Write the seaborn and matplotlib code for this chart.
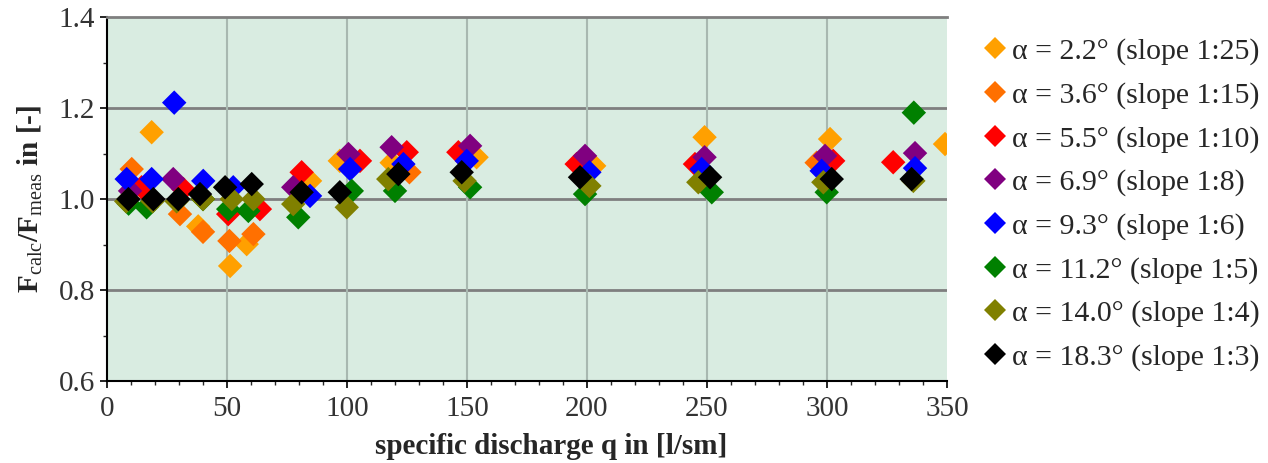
import numpy as np
import pandas as pd
import matplotlib
matplotlib.use("Agg")
import matplotlib.pyplot as plt
import seaborn as sns
from matplotlib.ticker import MultipleLocator

# ---- data ----
labels = [
    "α = 2.2° (slope 1:25)",
    "α = 3.6° (slope 1:15)",
    "α = 5.5° (slope 1:10)",
    "α = 6.9° (slope 1:8)",
    "α = 9.3° (slope 1:6)",
    "α = 11.2° (slope 1:5)",
    "α = 14.0° (slope 1:4)",
    "α = 18.3° (slope 1:3)",
]
colors = ["#FFA000", "#FF7000", "#FF0000", "#800080", "#0000FF", "#008000", "#808000", "#000000"]

q_22 = [18.6, 38, 51.3, 58.2, 84.6, 97, 118.6, 154, 203, 249, 301.3, 349.2]
f_22 = [1.147, 0.940, 0.853, 0.901, 1.040, 1.084, 1.080, 1.092, 1.073, 1.136, 1.132, 1.121]

q_36 = [10.3, 30.4, 40, 51, 61, 126, 295.7]
f_36 = [1.066, 0.967, 0.928, 0.908, 0.923, 1.059, 1.080]

q_55 = [14.4, 31.8, 50.5, 63.7, 81.1, 105.4, 124.9, 146.4, 195.7, 245, 302.6, 327.6]
f_55 = [1.026, 1.022, 0.967, 0.978, 1.059, 1.084, 1.103, 1.103, 1.077, 1.077, 1.084, 1.081]

q_69 = [9.6, 27.6, 77.6, 100.6, 118.6, 151.3, 199.2, 249, 299.2, 336.7]
f_69 = [1.018, 1.044, 1.026, 1.099, 1.114, 1.117, 1.095, 1.092, 1.095, 1.101]

q_93 = [8.2, 18.6, 28, 40.1, 52.6, 84.6, 101.3, 123.5, 149.9, 201, 247.8, 297.8, 336.7]
f_93 = [1.044, 1.044, 1.212, 1.040, 1.026, 1.007, 1.066, 1.077, 1.084, 1.059, 1.066, 1.062, 1.068]

q_112 = [9, 16.5, 40, 50.5, 58.9, 79.7, 102, 120, 151.3, 199.2, 252, 299.9, 336.2]
f_112 = [0.990, 0.982, 1.000, 0.978, 0.974, 0.960, 1.018, 1.018, 1.026, 1.011, 1.015, 1.015, 1.190]

q_140 = [8, 19, 29, 40, 52, 61, 77.6, 99.9, 117.2, 149, 201, 246.4, 298.5, 336]
f_140 = [0.995, 0.995, 0.995, 1.000, 1.000, 1.000, 0.989, 0.982, 1.044, 1.040, 1.029, 1.037, 1.037, 1.040]

q_183 = [8.9, 19.3, 29.7, 38.75, 49.2, 60.3, 81.1, 97, 121.4, 147.8, 197.1, 251.3, 302, 335.3]
f_183 = [1.000, 1.000, 1.000, 1.011, 1.026, 1.033, 1.015, 1.015, 1.055, 1.059, 1.048, 1.048, 1.044, 1.044]

series_q = [q_22, q_36, q_55, q_69, q_93, q_112, q_140, q_183]
series_f = [f_22, f_36, f_55, f_69, f_93, f_112, f_140, f_183]

frames = []
for lab, qs, fs in zip(labels, series_q, series_f):
    frames.append(pd.DataFrame({"q": qs, "F": fs, "slope": lab}))
df = pd.concat(frames, ignore_index=True)

# ---- styling ----
sns.set_style("white")
plt.rcParams["font.family"] = ["Liberation Serif", "DejaVu Serif"]
plt.rcParams["mathtext.fontset"] = "custom"
plt.rcParams["mathtext.rm"] = "Liberation Serif"
plt.rcParams["mathtext.bf"] = "Liberation Serif:bold"
plt.rcParams["mathtext.it"] = "Liberation Serif:italic"

fig = plt.figure(figsize=(12.68, 4.63), dpi=100)
ax = fig.add_axes([0.0844, 0.177, 0.6624, 0.786])
ax.set_facecolor("#D9ECE1")

sns.scatterplot(data=df, x="q", y="F", hue="slope", hue_order=labels,
                palette=dict(zip(labels, colors)), marker="D", s=155,
                linewidth=0, ax=ax, zorder=3)

ax.set_xlim(0, 350)
ax.set_ylim(0.6, 1.4)
ax.xaxis.set_major_locator(MultipleLocator(50))
ax.xaxis.set_minor_locator(MultipleLocator(10))
ax.yaxis.set_minor_locator(MultipleLocator(0.1))
ax.set_yticks([0.6, 0.8, 1.0, 1.2, 1.4])
ax.set_yticklabels(["0.6", "0.8", "1.0", "1.2", "1.4"])

ax.grid(False)
for yv in [1.2, 1.0, 0.8]:
    ax.axhline(yv, color="#7F7F7F", lw=2, zorder=1)
for xv in [50, 100, 150, 200, 250, 300]:
    ax.axvline(xv, color="#A8B8B0", lw=1.5, zorder=1)

ax.spines["left"].set_color("black")
ax.spines["left"].set_linewidth(1.5)
ax.spines["bottom"].set_color("black")
ax.spines["bottom"].set_linewidth(1.5)
ax.spines["top"].set_color("#7F7F7F")
ax.spines["top"].set_linewidth(2)
ax.spines["right"].set_visible(False)

ax.tick_params(axis="both", which="major", direction="out", length=5, width=1.2,
               labelsize=21, colors="black", left=True, bottom=True)
ax.tick_params(axis="x", which="major", pad=6)
ax.tick_params(axis="both", which="minor", direction="out", length=3, width=1,
               left=True, bottom=True)
for t in ax.get_xticklabels() + ax.get_yticklabels():
    t.set_color("#333333")

ax.set_xlabel("specific discharge q in [l/sm]", fontsize=21, fontweight="bold",
              labelpad=8)
ax.xaxis.label.set_x(0.529)
ax.set_ylabel(r"$\mathbf{F}_{\mathrm{calc}}\mathbf{/F}_{\mathrm{meas}}$ in [-]",
              fontsize=21, fontweight="bold", labelpad=10)

ax.legend(loc="upper left", bbox_to_anchor=(1.015, 1.0), frameon=False,
          fontsize=21.5, handletextpad=0.05, handlelength=1.0, labelspacing=0.55,
          markerscale=0.9, borderaxespad=0.3)

fig.savefig("out.png", dpi=100)
